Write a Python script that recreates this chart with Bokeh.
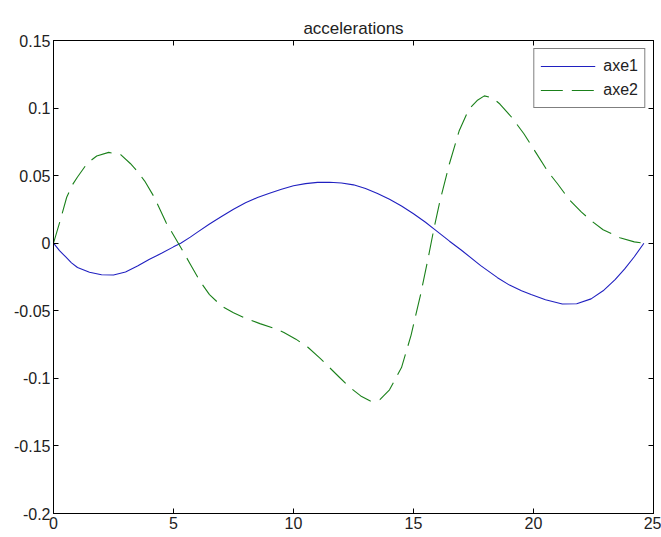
from bokeh.plotting import figure
from bokeh.models import Range1d, LinearAxis, Legend, LegendItem, FixedTicker
from bokeh.embed import file_html
from bokeh.resources import INLINE

# axe1 (solid blue)
x1 = [0, 0.25, 0.5, 0.75, 1.0, 1.5, 2.0, 2.5, 3.0, 3.5, 4.0, 4.5, 5.0, 5.3,
      5.7, 6.0, 6.5, 7.0, 7.5, 8.0, 8.5, 9.0, 9.5, 10.0, 10.5, 11.0, 11.5,
      12.0, 12.5, 13.0, 13.5, 14.0, 14.5, 15.0, 15.5, 15.85, 16.5, 17.0, 17.8,
      18.5, 19.0, 19.5, 19.9, 20.5, 21.2, 21.8, 22.4, 22.9, 23.4, 23.8, 24.2,
      24.6]
y1 = [0, -0.0055, -0.010, -0.0145, -0.018, -0.0215, -0.0233, -0.0235,
      -0.0213, -0.0168, -0.0118, -0.0075, -0.0027, 0.0, 0.0045, 0.0082,
      0.0142, 0.0198, 0.0252, 0.0300, 0.0338, 0.0370, 0.0400, 0.0425, 0.0441,
      0.0450, 0.0451, 0.0446, 0.0432, 0.0405, 0.0368, 0.0325, 0.0275, 0.0218,
      0.0155, 0.0106, 0.0015, -0.0052, -0.0166, -0.0255, -0.0310, -0.0352,
      -0.0380, -0.0418, -0.0450, -0.0448, -0.0412, -0.0352, -0.0270, -0.0190,
      -0.0100, 0.0]

# axe2 (dashed green)
x2 = [0, 0.3, 0.55, 0.8, 1.0, 1.4, 1.8, 2.3, 2.8, 3.2, 3.5, 3.8, 4.2, 4.7,
      5.2, 5.7, 6.1, 6.5, 7.0, 7.5, 8.0, 8.6, 9.2, 9.6, 10.1, 10.6, 11.1,
      11.5, 11.9, 12.3, 12.8, 13.2, 13.6, 14.0, 14.5, 14.9, 15.3, 15.6, 15.85,
      16.1, 16.5, 16.9, 17.3, 17.65, 17.95, 18.3, 18.6, 19.1, 19.6, 20.1,
      20.6, 21.0, 21.5, 22.0, 22.4, 22.9, 23.6, 24.2, 24.6]
y2 = [0, 0.018, 0.034, 0.0435, 0.049, 0.059, 0.0645, 0.0672, 0.0655, 0.059,
      0.053, 0.046, 0.034, 0.015, 0.0, -0.0155, -0.028, -0.038, -0.0465,
      -0.0515, -0.0555, -0.0595, -0.0630, -0.0660, -0.0710, -0.0770, -0.0850,
      -0.0920, -0.0990, -0.1060, -0.1130, -0.1168, -0.1158, -0.1085, -0.0920,
      -0.0680, -0.0376, -0.0120, 0.0106, 0.0310, 0.0590, 0.0830, 0.0990,
      0.1056, 0.1090, 0.1075, 0.1030, 0.0930, 0.0810, 0.0670, 0.0530,
      0.0440, 0.0320, 0.0230, 0.0167, 0.0100, 0.0040, 0.0010, 0.0]

x_ticks = [0, 5, 10, 15, 20, 25]
y_ticks = [-0.2, -0.15, -0.1, -0.05, 0, 0.05, 0.1, 0.15]
y_labels = {-0.2: "-0.2", -0.15: "-0.15", -0.1: "-0.1", -0.05: "-0.05",
            0: "0", 0.05: "0.05", 0.1: "0.1", 0.15: "0.15"}

FONT = "Liberation Sans"

p = figure(width=661, height=537, output_backend="svg", toolbar_location=None,
           x_range=Range1d(0, 25), y_range=Range1d(-0.2, 0.15),
           title="accelerations", x_axis_location=None, y_axis_location=None,
           min_border_left=53, min_border_right=8, min_border_top=40,
           min_border_bottom=24)
p.title.align = "center"
p.title.text_font = FONT
p.title.text_font_size = "17px"
p.title.text_font_style = "normal"
p.title.text_color = "#222222"
p.title.standoff = 6
p.grid.visible = False
p.outline_line_color = "black"
p.outline_line_width = 1
p.background_fill_color = "white"
p.border_fill_color = "white"

def make_axis(show_labels, ticks, overrides=None):
    ax = LinearAxis(ticker=FixedTicker(ticks=ticks))
    ax.major_tick_in = 5
    ax.major_tick_out = 0
    ax.minor_tick_in = 0
    ax.minor_tick_out = 0
    ax.axis_line_color = "black"
    ax.major_tick_line_color = "black"
    ax.major_label_text_font = FONT
    ax.major_label_text_font_size = "16px"
    ax.major_label_text_color = "#222222"
    ax.major_label_standoff = 3
    if show_labels:
        if overrides:
            ax.major_label_overrides = overrides
    else:
        ax.major_label_overrides = {t: "" for t in ticks}
        ax.major_label_standoff = 0
    return ax

p.add_layout(make_axis(True, x_ticks), "below")
p.add_layout(make_axis(True, y_ticks, y_labels), "left")
p.add_layout(make_axis(False, x_ticks), "above")
p.add_layout(make_axis(False, y_ticks), "right")

r1 = p.line(x1, y1, line_color="#2020c0", line_width=1.1)
r2 = p.line(x2, y2, line_color="#1a801a", line_width=1.1, line_dash="22 9")

legend = Legend(items=[LegendItem(label="axe1", renderers=[r1]),
                       LegendItem(label="axe2", renderers=[r2])],
                location="top_right")
legend.label_text_font = FONT
legend.label_text_font_size = "16px"
legend.label_text_color = "#222222"
legend.border_line_color = "black"
legend.border_line_width = 1
legend.glyph_width = 55
legend.glyph_height = 22
legend.label_height = 22
legend.spacing = 2
legend.padding = 6
legend.margin = 8
legend.label_standoff = 8
p.add_layout(legend, "center")

open("out.html", "w").write(file_html(p, INLINE))
